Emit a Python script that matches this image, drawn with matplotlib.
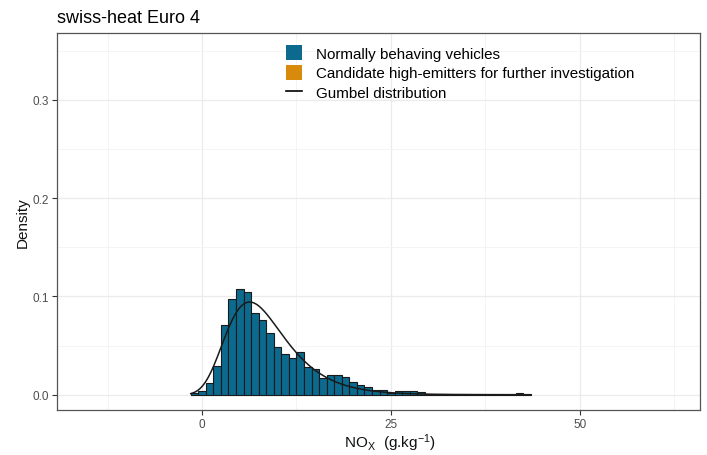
import matplotlib
matplotlib.use("Agg")
import numpy as np
import matplotlib.pyplot as plt
from matplotlib.patches import Patch
from matplotlib.lines import Line2D

plt.rcParams['font.family'] = ['Liberation Sans', 'DejaVu Sans']
plt.rcParams['mathtext.default'] = 'regular'

# histogram bins (width 1, centred on integers) and density heights
bin_centers = list(range(-1, 44))
density = [0.002, 0.004, 0.012, 0.029, 0.071, 0.097, 0.108, 0.105, 0.083, 0.076,
           0.063, 0.049, 0.041, 0.037, 0.043, 0.028, 0.026, 0.017, 0.020, 0.020,
           0.018, 0.013, 0.010, 0.008, 0.005, 0.005, 0.002, 0.004, 0.004, 0.004,
           0.003, 0.001, 0.0005, 0.0003, 0.0005, 0.0003, 0.0005, 0.0005, 0.0008, 0.0005,
           0.0003, 0.0005, 0.0008, 0.002, 0.0008]

# fitted Gumbel parameters (location, scale) and drawn range
gumbel_mu = 6.3
gumbel_beta = 3.9
curve_range = (-1.5, 43.5)

x_ticks = [0, 25, 50]
y_ticks = [0.0, 0.1, 0.2, 0.3]

blue = '#0b6a8e'
orange = '#d88a0c'

fig = plt.figure(figsize=(7.07, 4.56), dpi=100)
ax = fig.add_axes([0.0806, 0.0987, 0.9094, 0.8267])

ax.bar(bin_centers, density, width=1.0, color=blue, edgecolor='#1a1a1a',
       linewidth=0.8, zorder=3)

xs = np.linspace(curve_range[0], curve_range[1], 400)
z = (xs - gumbel_mu) / gumbel_beta
pdf = np.exp(-(z + np.exp(-z))) / gumbel_beta
ax.plot(xs, pdf, color='#1a1a1a', linewidth=1.1, zorder=4)

ax.set_xlim(-19.2, 65.9)
ax.set_ylim(-0.0155, 0.368)
ax.set_xticks(x_ticks)
ax.set_xticklabels([str(t) for t in x_ticks])
ax.set_yticks(y_ticks)
ax.set_yticklabels(['%.1f' % t for t in y_ticks])
ax.set_xticks([-12.5, 12.5, 37.5, 62.5], minor=True)
ax.set_yticks([0.05, 0.15, 0.25, 0.35], minor=True)

ax.grid(True, which='major', color='#ebebeb', linewidth=0.9, zorder=0)
ax.grid(True, which='minor', color='#f3f3f3', linewidth=0.6, zorder=0)
ax.set_axisbelow(True)

for s in ax.spines.values():
    s.set_color('#555555')
    s.set_linewidth(0.9)

ax.tick_params(which='major', length=3.5, width=0.8, color='#333333',
               labelcolor='#4d4d4d', labelsize=8.5, pad=2)
ax.tick_params(which='minor', length=0)

ax.set_ylabel('Density', fontsize=11, color='#111111')
ax.yaxis.set_label_coords(-0.043, 0.5)
ax.set_xlabel('NO$_{X}$  (g.kg$^{-1}$)', fontsize=11, color='#111111')
ax.xaxis.set_label_coords(0.518, -0.056)
ax.set_title('swiss-heat Euro 4', fontsize=13, loc='left', pad=8, x=0.0)

handles = [Patch(facecolor=blue, edgecolor='none'),
           Patch(facecolor=orange, edgecolor='none'),
           Line2D([0], [0], color='black', linewidth=1.2)]
labels = ['Normally behaving vehicles',
          'Candidate high-emitters for further investigation',
          'Gumbel distribution']
leg = ax.legend(handles, labels, loc='upper left', bbox_to_anchor=(0.337, 1.0),
                frameon=False, fontsize=10.9, handlelength=1.1, handleheight=1.1,
                handletextpad=0.9, labelspacing=0.3, borderaxespad=0.4)

fig.savefig('out.png', dpi=100)
